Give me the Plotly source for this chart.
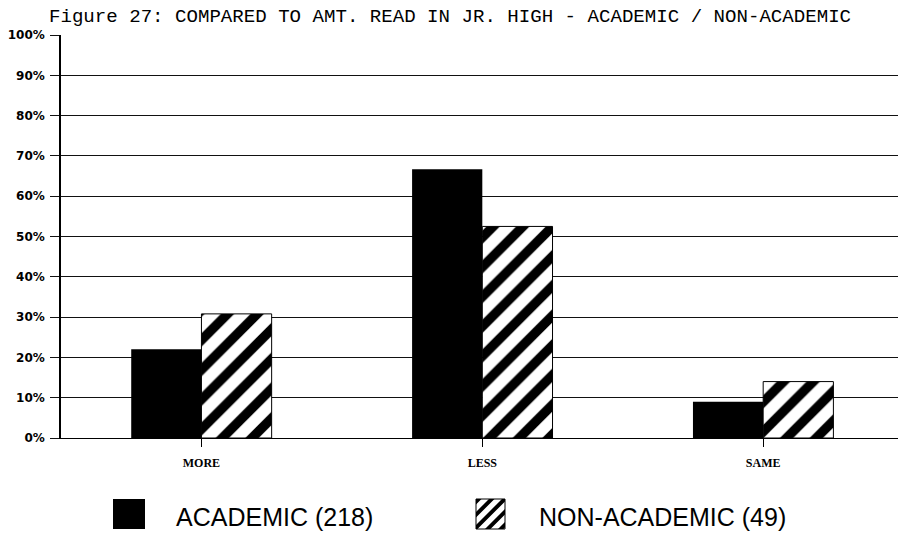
import plotly.graph_objects as go

# data
categories = ["MORE", "LESS", "SAME"]
academic = [22.0, 66.7, 9.0]
non_academic = [30.8, 52.5, 14.0]
y_ticks = [0, 10, 20, 30, 40, 50, 60, 70, 80, 90, 100]
y_tick_labels = [f"{t}%" for t in y_ticks]
series_names = ["ACADEMIC (218)", "NON-ACADEMIC (49)"]

W, H = 898, 533
L, R, T, B = 61, 0, 35, 95
plot_w = W - L - R
plot_h = H - T - B


def px_x(x):
    # pixel -> paper x
    return (x - L) / plot_w


def px_y(y):
    # pixel -> paper y
    return (H - B - y) / plot_h


fig = go.Figure()

fig.add_trace(go.Bar(
    x=categories, y=academic, name=series_names[0],
    marker=dict(color="black", line=dict(width=0)),
    showlegend=False,
))
fig.add_trace(go.Bar(
    x=categories, y=non_academic, name=series_names[1],
    marker=dict(
        color="white",
        line=dict(color="black", width=1),
        pattern=dict(shape="/", fgcolor="black", bgcolor="white",
                     fgopacity=1, size=21, solidity=0.45),
    ),
    showlegend=False,
))

fig.update_layout(
    width=W, height=H,
    margin=dict(l=L, r=R, t=T, b=B),
    paper_bgcolor="white",
    plot_bgcolor="white",
    barmode="group",
    bargap=0.5,
    bargroupgap=0,
    title=dict(
        text="Figure 27: COMPARED TO AMT. READ IN JR. HIGH - ACADEMIC / NON-ACADEMIC",
        font=dict(family="Liberation Mono", size=19.1, color="black"),
        x=49 / W, xanchor="left", xref="container",
        y=1 - 15 / H, yanchor="middle", yref="container",
    ),
    xaxis=dict(
        range=[-0.5, 2.48],
        showgrid=False,
        showline=True, linecolor="black", linewidth=1,
        ticks="outside", ticklen=8, tickcolor="black", tickwidth=1,
        tickfont=dict(family="Liberation Serif", size=12, color="black", weight="bold"),
        ticklabelstandoff=6,
    ),
    yaxis=dict(
        range=[0, 100],
        tickvals=y_ticks, ticktext=y_tick_labels,
        showgrid=True, gridcolor="#111111", gridwidth=1,
        showline=True, linecolor="black", linewidth=1.5,
        zeroline=False,
        ticks="outside", ticklen=9, tickcolor="#111111", tickwidth=1,
        tickfont=dict(family="DejaVu Sans", size=12, color="black", weight="bold"),
        ticklabelstandoff=3,
    ),
)

# legend drawn by hand so the swatches can be large
sq_top, sq_bot = 499, 529
fig.add_shape(type="rect", xref="paper", yref="paper",
              x0=px_x(113), x1=px_x(145), y0=px_y(sq_bot), y1=px_y(sq_top),
              fillcolor="black", line=dict(width=0))


def clip(poly, a, b, c):
    # keep part of polygon with a*x + b*y >= c
    out = []
    n = len(poly)
    for i in range(n):
        p, q = poly[i], poly[(i + 1) % n]
        fp = a * p[0] + b * p[1] - c
        fq = a * q[0] + b * q[1] - c
        if fp >= 0:
            out.append(p)
        if fp * fq < 0:
            t = fp / (fp - fq)
            out.append((p[0] + t * (q[0] - p[0]), p[1] + t * (q[1] - p[1])))
    return out


hx0, hx1 = 476, 505
square = [(hx0, sq_top), (hx1, sq_top), (hx1, sq_bot), (hx0, sq_bot)]
period, stripe = 13, 5.5
path = ""
# "/" stripes: bands of constant x + y in screen coords
c = hx0 + sq_top - period
while c < hx1 + sq_bot:
    band = clip(square, 1, 1, c)
    band = clip(band, -1, -1, -(c + stripe))
    if len(band) >= 3:
        path += "M" + "L".join(f"{px_x(x):.5f},{px_y(y):.5f}" for x, y in band) + "Z "
    c += period
fig.add_shape(type="rect", xref="paper", yref="paper",
              x0=px_x(hx0), x1=px_x(hx1), y0=px_y(sq_bot), y1=px_y(sq_top),
              fillcolor="white", line=dict(color="black", width=1))
fig.add_shape(type="path", xref="paper", yref="paper", path=path,
              fillcolor="black", line=dict(width=0))

for name, xpix in zip(series_names, [174, 537]):
    fig.add_annotation(
        x=px_x(xpix), y=px_y(516.5), xref="paper", yref="paper",
        text=name, showarrow=False, xanchor="left", yanchor="middle",
        font=dict(family="Liberation Sans", size=25, color="black"),
    )

# page body has a default 8px margin; drop it so the figure sits at 0,0
fig.write_html("out.html", config={"displayModeBar": False},
               post_script="document.body.style.margin='0';")
